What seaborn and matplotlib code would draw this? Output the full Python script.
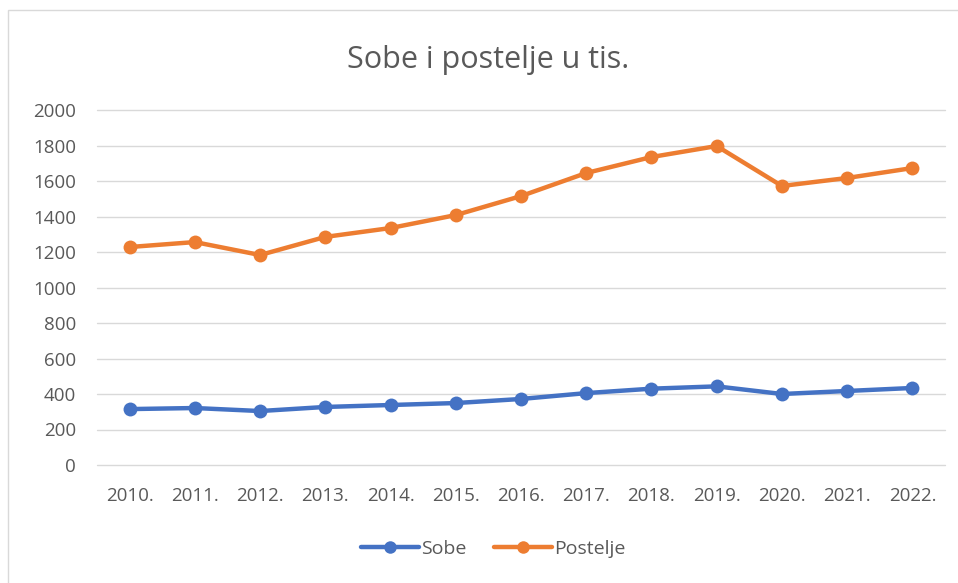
import matplotlib
matplotlib.use("Agg")
import matplotlib.pyplot as plt
import matplotlib.patches as mpatches
import seaborn as sns
import pandas as pd

years = ["2010.", "2011.", "2012.", "2013.", "2014.", "2015.", "2016.",
         "2017.", "2018.", "2019.", "2020.", "2021.", "2022."]
sobe = [315, 321, 304, 327, 338, 349, 372, 405, 430, 443, 400, 417, 434]
postelje = [1228, 1256, 1183, 1285, 1335, 1408, 1515, 1645, 1735, 1797, 1572, 1617, 1673]
series_names = ["Sobe", "Postelje"]
colors = ["#4472C4", "#ED7D31"]
yticks = [0, 200, 400, 600, 800, 1000, 1200, 1400, 1600, 1800, 2000]

df = pd.DataFrame({
    "Godina": years * 2,
    "Vrijednost": sobe + postelje,
    "Serija": [series_names[0]] * len(years) + [series_names[1]] * len(years),
})

sns.set_theme(style="white")
plt.rcParams["font.family"] = ["Open Sans", "DejaVu Sans"]
text_color = "#595959"

fig = plt.figure(figsize=(9.58, 5.83), dpi=100)
ax = fig.add_axes([97 / 958, 1 - 465 / 583, (945 - 97) / 958, (465 - 110) / 583])

sns.lineplot(data=df, x="Godina", y="Vrijednost", hue="Serija",
             palette=colors, marker="o", markersize=10, markeredgewidth=0,
             linewidth=3.2, sort=False, ax=ax, legend=False)

ax.set_xlim(-0.5, len(years) - 0.5)
ax.set_ylim(0, 2000)
ax.set_yticks(yticks)
ax.set_xticks(range(len(years)))
ax.set_xticklabels(years)
ax.set_xlabel("")
ax.set_ylabel("")
for s in ax.spines.values():
    s.set_visible(False)
ax.grid(axis="y", color="#D9D9D9", linewidth=1)
for gl in ax.get_ygridlines():
    gl.set_clip_on(False)
ax.set_axisbelow(True)
ax.tick_params(axis="y", length=0, pad=15, labelsize=13.5, labelcolor=text_color)
ax.tick_params(axis="x", length=0, pad=16, labelsize=13.5, labelcolor=text_color)

fig.text(488 / 958, 1 - 60 / 583, "Sobe i postelje u tis.", ha="center", va="center",
         fontsize=22, color=text_color)

handles = [plt.Line2D([], [], color=c, marker="o", markersize=9, linewidth=3.2,
                      markeredgewidth=0) for c in colors]
fig.legend(handles, series_names, loc="center", bbox_to_anchor=(493 / 958, 1 - 549 / 583),
           ncol=2, frameon=False, fontsize=14, labelcolor=text_color,
           handlelength=3, handletextpad=0.1, columnspacing=1.4)

border = mpatches.Rectangle((8 / 958, -0.1), 1.2, 1 - 10 / 583 + 0.1,
                            transform=fig.transFigure, fill=False,
                            edgecolor="#D9D9D9", linewidth=1)
fig.patches.append(border)

fig.savefig("out.png", dpi=100)
